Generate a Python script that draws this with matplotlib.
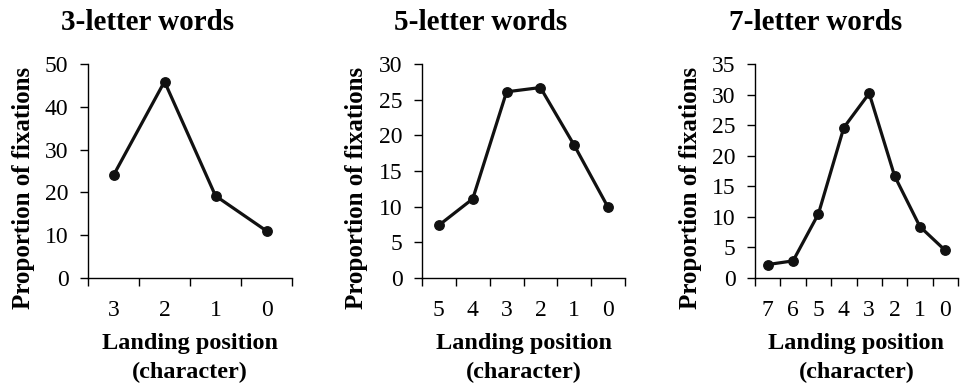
import matplotlib
matplotlib.use("Agg")
import matplotlib.pyplot as plt
import numpy as np

plt.rcParams["font.family"] = "Liberation Serif"

W, H = 961, 383

# Fixation proportions by landing position (character from word end)
titles = ["3-letter words", "5-letter words", "7-letter words"]
positions_3 = ["3", "2", "1", "0"]
positions_5 = ["5", "4", "3", "2", "1", "0"]
positions_7 = ["7", "6", "5", "4", "3", "2", "1", "0"]
fixations_3 = [24.0, 45.9, 19.2, 11.0]
fixations_5 = [7.4, 11.1, 26.1, 26.7, 18.6, 9.9]
fixations_7 = [2.2, 2.8, 10.5, 24.6, 30.2, 16.7, 8.4, 4.5]
y_max = [50, 30, 35]
y_step = [10, 5, 5]

# axes boxes in pixels: left, right, top, bottom
boxes = [(88, 292, 64, 278), (422, 625, 64, 278), (755, 958, 64, 278)]
title_x = [148, 481, 816]
ylabel_x = [24, 356, 691]

fig = plt.figure(figsize=(W / 100, H / 100), dpi=100)

panels = [(positions_3, fixations_3), (positions_5, fixations_5), (positions_7, fixations_7)]
for i, (labels, values) in enumerate(panels):
    l, r, t, b = boxes[i]
    ax = fig.add_axes([l / W, 1 - b / H, (r - l) / W, (b - t) / H])
    n = len(labels)
    x = np.arange(n)
    ax.plot(x, values, color="#111111", lw=2.3, marker="o", ms=6.8,
            solid_joinstyle="miter", clip_on=False)
    ax.set_xlim(-0.5, n - 0.5)
    ax.set_ylim(0, y_max[i])
    ax.set_yticks(np.arange(0, y_max[i] + 1, y_step[i]))
    ax.set_xticks(x)
    ax.set_xticklabels(labels)
    ax.set_xticks(np.arange(n + 1) - 0.5, minor=True)
    ax.tick_params(axis="x", which="major", length=0, pad=16, labelsize=17)
    ax.tick_params(axis="x", which="minor", length=6, width=1, direction="out")
    ax.tick_params(axis="y", length=6, width=1, direction="out", pad=8, labelsize=17)
    for side in ["top", "right"]:
        ax.spines[side].set_visible(False)
    for side in ["left", "bottom"]:
        ax.spines[side].set_linewidth(1)

    fig.text(title_x[i] / W, 1 - 22 / H, titles[i], ha="center", va="center",
             fontsize=21, fontweight="bold")
    fig.text(ylabel_x[i] / W, 1 - 188 / H, "Proportion of fixations", rotation=90,
             ha="center", va="center", fontsize=18, fontweight="bold")
    cx = (l + r) / 2
    fig.text(cx / W, 1 - 343 / H, "Landing position", ha="center", va="center",
             fontsize=17.5, fontweight="bold")
    fig.text(cx / W, 1 - 372 / H, "(character)", ha="center", va="center",
             fontsize=17.5, fontweight="bold")

fig.savefig("out.png", dpi=100, facecolor="white")
